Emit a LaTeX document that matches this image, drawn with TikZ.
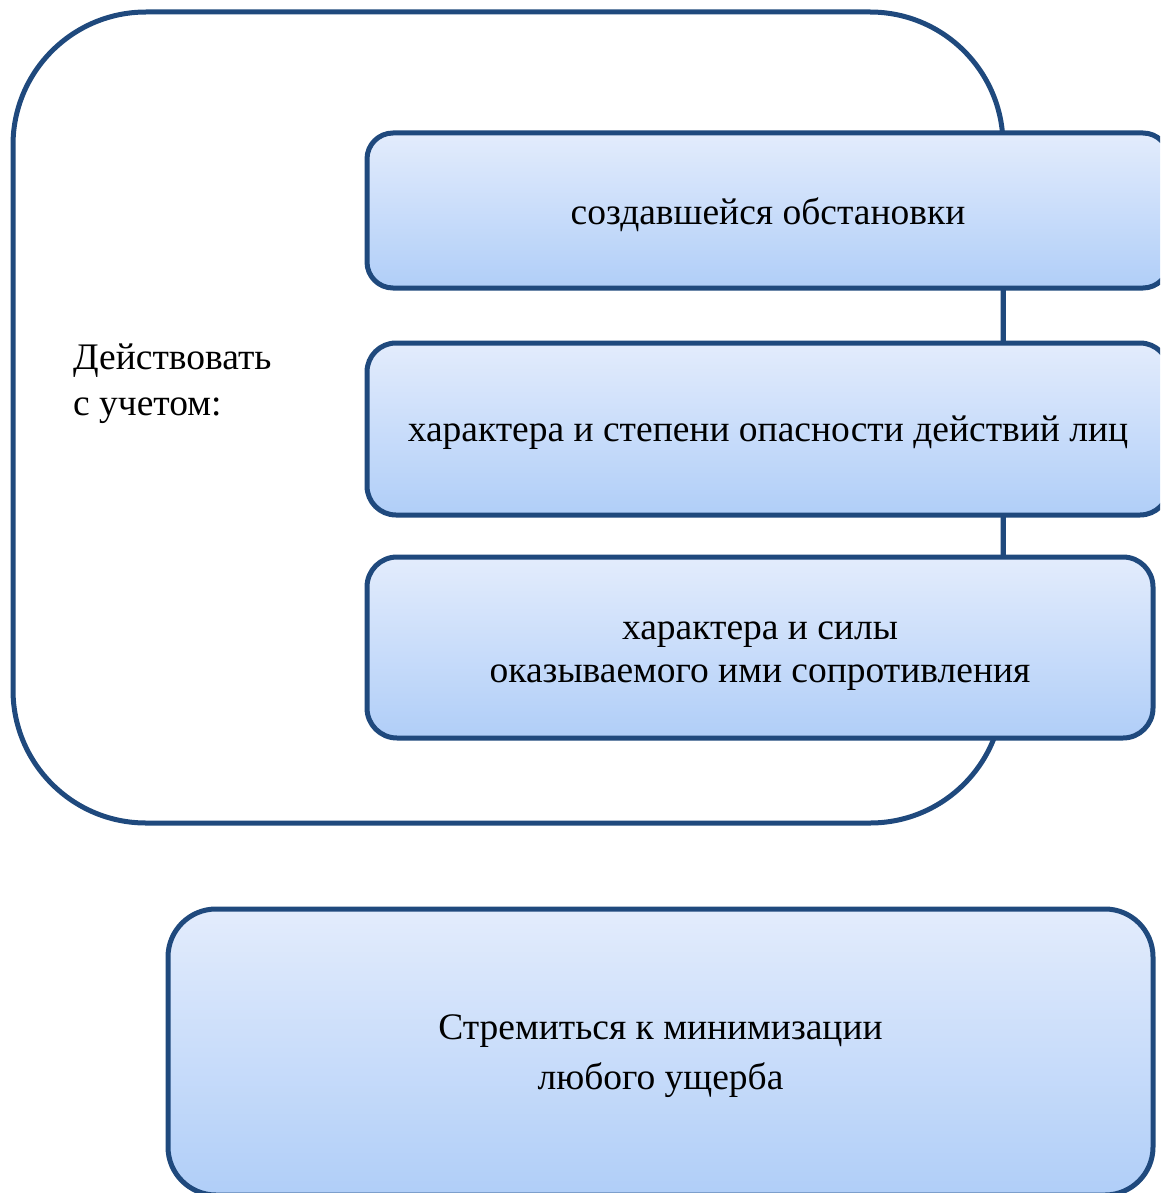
\documentclass[tikz,border=0pt]{standalone}
\usepackage{fontspec}
\setmainfont{Liberation Serif}
\definecolor{edge}{RGB}{31,73,125}
\definecolor{topfill}{RGB}{227,236,252}
\definecolor{botfill}{RGB}{176,206,248}
\begin{document}
\begin{tikzpicture}[x=1pt,y=-1pt,
  frame/.style={draw=edge,line width=5pt,rectangle,inner sep=0pt,outer sep=0pt},
  item/.style={frame,top color=topfill,bottom color=botfill},
  txt/.style={align=center,inner sep=0pt,yshift=-4pt,font=\fontsize{37.5}{43}\selectfont},
  link/.style={draw=edge,line width=5pt}]
\useasboundingbox (0,0) rectangle (1160,1193);
\clip (0,0) rectangle (1160,1193);
\node[frame,fill=white,rounded corners=133pt,minimum width=990pt,minimum height=811pt] (outer) at (508,417.5) {};
\node[anchor=west,inner sep=0pt,align=left,font=\fontsize{37.5}{46}\selectfont] (lbl) at (73,384) {Действовать\\с учетом:};
\node[item,rounded corners=26pt,minimum width=802pt,minimum height=155pt] (b1) at (768,210.5) {};
\node[item,rounded corners=29pt,minimum width=802pt,minimum height=172pt] (b2) at (768,429) {};
\node[item,rounded corners=30pt,minimum width=786pt,minimum height=181pt] (b3) at (760,647.5) {};
\node[item,rounded corners=48pt,minimum width=985pt,minimum height=286pt] (b4) at (660.5,1052) {};
\node[txt] (t1) at (b1.center) {создавшейся обстановки};
\node[txt] (t2) at (b2.center) {характера и степени опасности действий лиц};
\node[txt,yshift=-5pt] (t3) at (b3.center) {характера и силы\\оказываемого ими сопротивления};
\node[txt,font=\fontsize{37.5}{50}\selectfont] (t4) at (b4.center) {Стремиться к минимизации\\любого ущерба};
\draw[link] (b1.south -| outer.east) -- (b2.north -| outer.east);
\draw[link] (b2.south -| outer.east) -- (b3.north -| outer.east);
\end{tikzpicture}
\end{document}
